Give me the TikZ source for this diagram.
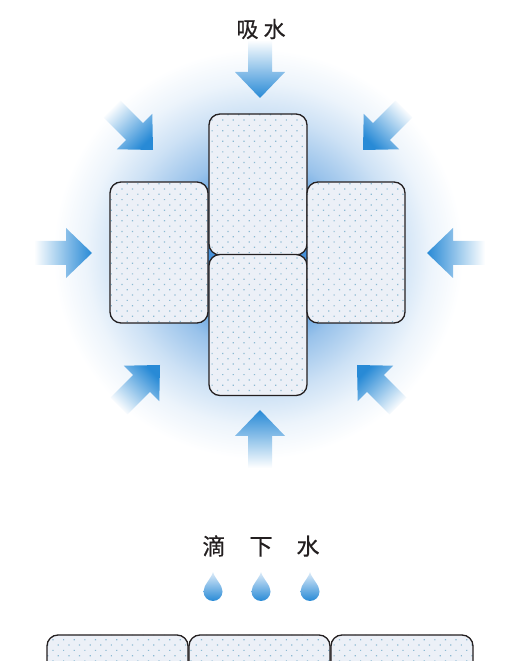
\documentclass[tikz,border=0pt]{standalone}
\usepackage{fontspec}
\newfontfamily\cjk[FakeBold=0.6]{Noto Sans CJK SC}
\usetikzlibrary{patterns.meta}

\definecolor{glowblue}{RGB}{70,145,218}
\definecolor{arrowblue}{RGB}{40,138,214}
\definecolor{droplight}{RGB}{222,236,249}
\definecolor{blockfill}{RGB}{236,240,247}
\definecolor{dotblue}{RGB}{140,185,210}
\definecolor{outline}{RGB}{35,31,32}

% soft blue halo behind the blocks (25bp = circle radius)
\pgfdeclareradialshading{glow}{\pgfpointorigin}{color(0bp)=(glowblue); color(7bp)=(glowblue); color(12bp)=(glowblue!55); color(17bp)=(glowblue!27); color(21bp)=(glowblue!10); color(25bp)=(white); color(50bp)=(white)}

\tikzset{
  block/.style={draw=outline, line width=1.3pt, rounded corners=11pt,
    preaction={fill=blockfill},
    pattern={Dots[distance=7.5pt, radius=0.85pt, angle=45]}, pattern color=dotblue,
    inner sep=0pt, minimum width=98pt, minimum height=141pt},
  flatblock/.style={block, minimum width=141pt, minimum height=60pt},
  caption/.style={text=outline},
}

\begin{document}
\begin{tikzpicture}[x=1pt, y=1pt]
    \clip (0,0) rectangle (506,661);

    % Halo
    \shade[shading=glow] (258,407) circle (205);

    % Draw the four sponge blocks
    \node[block] (top) at (258,476.5) {};
    \node[block] (bottom) at (258,336) {};
    \node[block] (left) at (159,408.5) {};
    \node[block] (right) at (356,408.5) {};

    % Arrows pointing in
    \foreach [evaluate=\ang as \sang using \ang-90] \tx/\ty/\ang in {260/563/-90, 260/251/90, 92/408/0, 427/408/180, 153/511/-45, 363/511/-135, 160/296/45, 357/296/135} {
        \begin{scope}[shift={(\tx,\ty)}, rotate=\ang]
            \shade[top color=arrowblue, bottom color=white, shading angle=\sang]
                (0,0) -- (-26,25) -- (-26,12) -- (-58,12) -- (-58,-12) -- (-26,-12) -- (-26,-25) -- cycle;
        \end{scope}
    }

    \node[caption, font=\cjk\fontsize{22}{22}\selectfont] (absorb) at (261,632) {吸\hspace{5pt}水};

    % Drip section
    \node[caption, font=\cjk\fontsize{23}{23}\selectfont] (drip) at (261,115) {滴\hspace{24pt}下\hspace{24pt}水};

    \foreach \dx in {213,261,310}
        \shade[top color=droplight, bottom color=arrowblue]
            (\dx,89) .. controls (\dx+2,82) and (\dx+9.5,76) .. (\dx+9.5,69.5)
            arc[start angle=0, end angle=-180, radius=9.5]
            .. controls (\dx-9.5,76) and (\dx-2,82) .. (\dx,89) -- cycle;

    % Flat blocks below
    \node[flatblock] (flatA) at (117.5,-4) {};
    \node[flatblock] (flatB) at (259.5,-4) {};
    \node[flatblock, minimum width=142pt] (flatC) at (402,-4) {};
\end{tikzpicture}
\end{document}
